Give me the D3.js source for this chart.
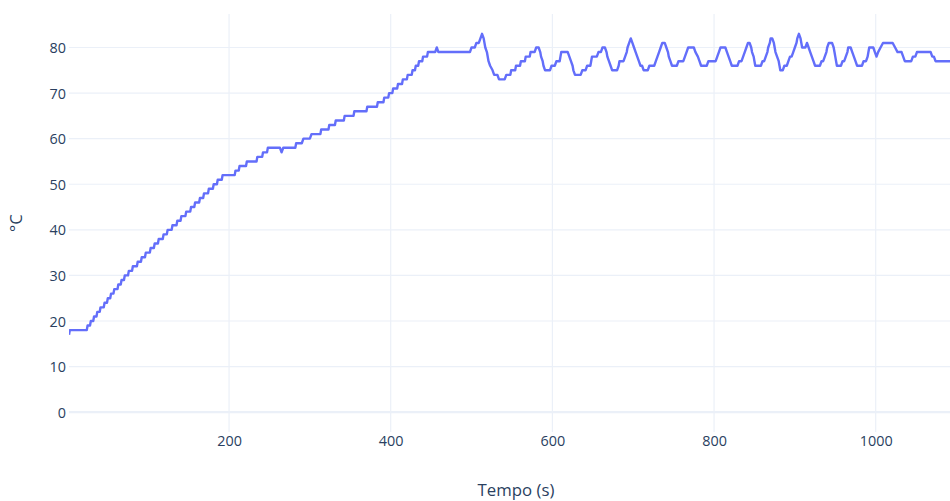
<!DOCTYPE html>
<html>
<head>
<meta charset="utf-8">
<script src="https://cdn.jsdelivr.net/npm/d3@7"></script>
<style>
  html, body { margin: 0; padding: 0; background: #fff; }
  svg { display: block; font-family: "Open Sans", "DejaVu Sans", sans-serif; }
</style>
</head>
<body>
<svg id="chart" width="950" height="501"></svg>
<script>
// ---- Data ----
const time = [
  2, 3, 24,
  25, 28, 29, 32, 33, 36, 37, 40, 41, 45, 46, 49, 50, 53, 54, 57, 58, 62, 63, 66, 67, 70,
  71, 75, 76, 80, 81, 86, 87, 91, 92, 96, 97, 102, 103, 107, 108, 112, 113, 118, 119, 123,
  124, 129, 130, 135, 136, 140, 141, 146, 147, 152, 153, 157, 158, 163, 164, 168, 169, 174,
  175, 180, 181, 185, 186, 191, 192, 207, 208, 212, 213, 221, 222, 234, 235, 241, 242, 247,
  248, 263, 265, 267, 282, 283, 290, 292, 300, 302, 313, 314, 323, 324, 331, 332, 342, 343,
  354, 355, 370, 371, 383, 384, 391, 392, 397, 398, 402, 403, 408, 409, 414, 415, 420, 421,
  426, 427, 430, 431, 434, 435, 439, 440, 445, 446, 455, 457, 459, 498,
  500, 504, 506, 509, 511, 513, 515, 517, 519, 521, 523, 526, 528, 532, 534, 541,
  543, 548, 549, 554, 555, 560, 561, 566, 567, 572, 573, 578, 580, 583,
  585, 586, 588, 589, 591, 597, 599, 603, 605, 609, 610, 611, 619,
  621, 623, 625, 626, 628, 635, 637, 641, 643, 647, 648, 649, 655, 657, 660, 662, 665,
  667, 668, 670, 672, 674, 680, 682, 683, 688, 690, 692, 693, 695, 697,
  699, 701, 703, 705, 707, 709, 711, 713, 718, 720, 726, 728, 730, 732, 734, 736, 739,
  741, 743, 744, 746, 748, 754, 756, 762, 764, 766, 768, 775,
  777, 780, 782, 784, 791, 793, 802, 804, 806, 808, 814,
  816, 818, 820, 822, 829, 831, 834, 836, 838, 840, 842, 844,
  846, 847, 849, 850, 851, 858, 860, 862, 864, 866, 867, 869, 870, 872,
  874, 875, 876, 878, 880, 881, 882, 885, 887, 890, 892, 894, 896, 898, 900, 902, 903, 905,
  907, 908, 909, 913, 915, 917, 919, 921, 923, 925, 931, 933, 935, 937, 939, 940, 942, 946,
  948, 949, 950, 951, 952, 957, 959, 961, 963, 965, 966, 969,
  971, 973, 975, 977, 983, 985, 988, 990, 991, 992, 997,
  999, 1001, 1003, 1006, 1009, 1021, 1024, 1027, 1032, 1034, 1036, 1044,
  1046, 1049, 1051, 1068, 1070, 1072, 1074, 1108
];
const temp = [
  17, 18, 18,
  19, 19, 20, 20, 21, 21, 22, 22, 23, 23, 24, 24, 25, 25, 26, 26, 27, 27, 28, 28, 29, 29,
  30, 30, 31, 31, 32, 32, 33, 33, 34, 34, 35, 35, 36, 36, 37, 37, 38, 38, 39, 39,
  40, 40, 41, 41, 42, 42, 43, 43, 44, 44, 45, 45, 46, 46, 47, 47, 48, 48,
  49, 49, 50, 50, 51, 51, 52, 52, 53, 53, 54, 54, 55, 55, 56, 56, 57, 57,
  58, 58, 57, 58, 58, 59, 59, 60, 60, 61, 61, 62, 62, 63, 63, 64, 64, 65,
  65, 66, 66, 67, 67, 68, 68, 69, 69, 70, 70, 71, 71, 72, 72, 73, 73, 74,
  74, 75, 75, 76, 76, 77, 77, 78, 78, 79, 79, 80, 79, 79,
  80, 80, 81, 81, 82, 83, 82, 80, 79, 77, 76, 75, 74, 74, 73, 73,
  74, 74, 75, 75, 76, 76, 77, 77, 78, 78, 79, 79, 80, 80,
  79, 78, 77, 76, 75, 75, 76, 76, 77, 77, 78, 79, 79,
  78, 77, 76, 75, 74, 74, 75, 75, 76, 76, 77, 78, 78, 79, 79, 80, 80,
  79, 78, 77, 76, 75, 75, 76, 77, 77, 78, 79, 80, 81, 82,
  81, 80, 79, 78, 77, 76, 76, 75, 75, 76, 76, 77, 78, 79, 80, 81, 81,
  80, 79, 78, 77, 76, 76, 77, 77, 78, 79, 80, 80,
  79, 78, 77, 76, 76, 77, 77, 78, 79, 80, 80,
  79, 78, 77, 76, 76, 77, 77, 78, 79, 80, 81, 81,
  80, 79, 78, 77, 76, 76, 77, 77, 78, 79, 80, 81, 82, 82,
  81, 80, 79, 78, 77, 76, 75, 75, 76, 76, 77, 78, 78, 79, 80, 81, 82, 83,
  82, 81, 80, 80, 81, 80, 79, 78, 77, 76, 76, 77, 77, 78, 79, 80, 81, 81,
  80, 79, 78, 77, 76, 76, 77, 77, 78, 79, 80, 80,
  79, 78, 77, 76, 76, 77, 77, 78, 79, 80, 80,
  79, 78, 79, 80, 81, 81, 80, 79, 79, 78, 77, 77,
  78, 78, 79, 79, 78, 78, 77, 77
];
const xTicks = [200, 400, 600, 800, 1000];
const yTicks = [0, 10, 20, 30, 40, 50, 60, 70, 80];
const xTitle = "Tempo (s)";
const yTitle = "°C";

// ---- Layout ----
const W = 950, H = 501;
const plot = { left: 69, right: 963, top: 14, bottom: 432 };

const svg = d3.select("#chart");

const x = d3.scaleLinear().domain([2, 1108]).range([plot.left, plot.right]);
const y = d3.scaleLinear().domain([-4.35, 87.35]).range([plot.bottom, plot.top]);

svg.append("defs").append("clipPath").attr("id", "clip")
  .append("rect")
  .attr("x", plot.left).attr("y", plot.top)
  .attr("width", plot.right - plot.left).attr("height", plot.bottom - plot.top);

// Grid lines
const grid = svg.append("g");
grid.selectAll(".vg").data(xTicks).enter().append("line")
  .attr("x1", d => x(d)).attr("x2", d => x(d))
  .attr("y1", plot.top).attr("y2", plot.bottom)
  .attr("stroke", "#ebf0f8").attr("stroke-width", 1.2);
grid.selectAll(".hg").data(yTicks).enter().append("line")
  .attr("x1", plot.left).attr("x2", plot.right)
  .attr("y1", d => y(d)).attr("y2", d => y(d))
  .attr("stroke", "#ebf0f8")
  .attr("stroke-width", d => d === 0 ? 2.4 : 1.2);

// Axes (labels only, Plotly style)
const xAxis = d3.axisBottom(x).tickValues(xTicks).tickFormat(d3.format("d")).tickSize(0).tickPadding(0);
const gx = svg.append("g").attr("transform", `translate(0,${plot.bottom})`).call(xAxis);
gx.select(".domain").remove();
gx.selectAll("text")
  .attr("y", 14).attr("dy", "0")
  .attr("fill", "#2a3f5f")
  .style("font-size", "14.4px")
  .style("font-family", '"Open Sans", sans-serif');

const yAxis = d3.axisLeft(y).tickValues(yTicks).tickFormat(d3.format("d")).tickSize(0).tickPadding(0);
const gy = svg.append("g").attr("transform", `translate(${plot.left - 3},0)`).call(yAxis);
gy.select(".domain").remove();
gy.selectAll("text")
  .attr("x", 0).attr("dy", "0.35em")
  .attr("fill", "#2a3f5f")
  .style("font-size", "14.4px")
  .style("font-family", '"Open Sans", sans-serif');

// Line
const pts = time.map((t, i) => [t, temp[i]]);
const line = d3.line().x(d => x(d[0])).y(d => y(d[1]));
svg.append("path")
  .datum(pts)
  .attr("clip-path", "url(#clip)")
  .attr("d", line)
  .attr("fill", "none")
  .attr("stroke", "#636efa")
  .attr("stroke-width", 2.4)
  .attr("stroke-linejoin", "round");

// Titles
svg.append("text")
  .attr("x", (plot.left + plot.right) / 2)
  .attr("y", 496)
  .attr("text-anchor", "middle")
  .attr("fill", "#2a3f5f")
  .style("font-size", "16.8px")
  .text(xTitle);

svg.append("text")
  .attr("transform", `translate(22,${(plot.top + plot.bottom) / 2}) rotate(-90)`)
  .attr("text-anchor", "middle")
  .attr("fill", "#2a3f5f")
  .style("font-size", "16.8px")
  .text(yTitle);
</script>
</body>
</html>
